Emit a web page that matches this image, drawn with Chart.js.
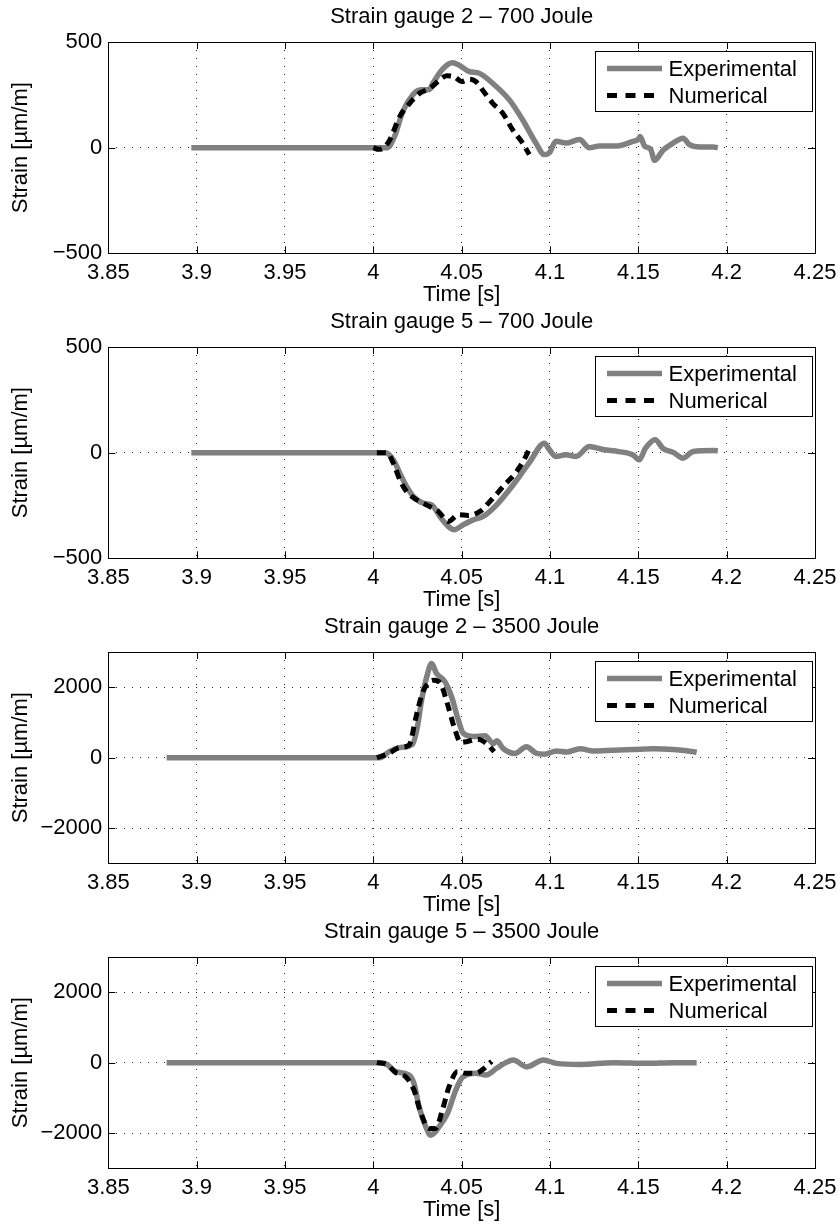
<!DOCTYPE html>
<html>
<head>
<meta charset="utf-8">
<title>Strain gauges - experimental vs numerical</title>
<script src="https://cdn.jsdelivr.net/npm/chart.js@4.4.1/dist/chart.umd.min.js"></script>
<style>
  body { margin: 0; background: #fff; }
  #wrap { position: relative; width: 838px; height: 1228px; overflow: hidden; }
  canvas { position: absolute; left: 0; }
</style>
</head>
<body>
<div id="wrap">
  <canvas id="sg2_700" width="838" height="330" style="top:0px"></canvas>
  <canvas id="sg5_700" width="838" height="330" style="top:305px"></canvas>
  <canvas id="sg2_3500" width="838" height="330" style="top:610px"></canvas>
  <canvas id="sg5_3500" width="838" height="313" style="top:915px"></canvas>
</div>
<script>
// Axis ticks
const xTicks = [3.85, 3.9, 3.95, 4, 4.05, 4.1, 4.15, 4.2, 4.25];
const yTicks700 = [-500, 0, 500];
const yTicks3500 = [-2000, 0, 2000];
const seriesNames = ['Experimental', 'Numerical'];

// Strain gauge 2 - 700 Joule
const sg2j700ExpT = [3.897, 3.95, 4.0, 4.008, 4.012, 4.0167, 4.0224, 4.0262, 4.0318, 4.0334, 4.0391, 4.0448, 4.0486, 4.0543, 4.0599, 4.0675, 4.077, 4.0845, 4.092, 4.0968, 4.0996, 4.1034, 4.109, 4.1167, 4.1223, 4.128, 4.138, 4.1469, 4.1498, 4.151, 4.1535, 4.157, 4.1592, 4.164, 4.1697, 4.1753, 4.179, 4.185, 4.1923, 4.195];
const sg2j700ExpV = [0, 0, 0, 0, 53, 171, 250, 273, 275, 300, 371, 402, 390, 360, 352, 305, 226, 132, 22, -33, -25, 30, 22, 38, 0, 8, 8, 30, 38, 53, 8, -8, -60, -12, 22, 45, 14, 3, 3, 0];
const sg2j700NumT = [4.0, 4.003, 4.006, 4.0094, 4.015, 4.0207, 4.0263, 4.032, 4.0377, 4.0415, 4.046, 4.05, 4.0543, 4.058, 4.0618, 4.0675, 4.0732, 4.0788, 4.0845, 4.0883];
const sg2j700NumV = [0, -8, 0, 38, 148, 211, 258, 280, 321, 340, 335, 313, 324, 313, 273, 211, 164, 85, 22, -33];

// Strain gauge 5 - 700 Joule
const sg5j700ExpT = [3.897, 3.95, 4.0, 4.007, 4.0113, 4.015, 4.0188, 4.0226, 4.0283, 4.033, 4.0377, 4.0424, 4.0457, 4.0509, 4.0566, 4.0622, 4.0698, 4.0792, 4.0887, 4.0968, 4.0996, 4.1034, 4.109, 4.1147, 4.1223, 4.13, 4.139, 4.1468, 4.1505, 4.154, 4.1595, 4.164, 4.17, 4.1753, 4.181, 4.193, 4.195];
const sg5j700ExpV = [0, 0, 0, 0, -34, -97, -160, -207, -239, -247, -302, -349, -365, -341, -318, -302, -247, -152, -42, 45, 15, -18, -10, -18, 29, 15, 5, -10, -34, 20, 61, 20, 0, -26, 5, 10, 8];
const sg5j700NumT = [4.002, 4.0075, 4.0113, 4.015, 4.0188, 4.0245, 4.03, 4.0368, 4.0424, 4.0481, 4.0537, 4.0604, 4.066, 4.0735, 4.0811, 4.0858, 4.0887];
const sg5j700NumV = [0, 0, -49, -128, -184, -223, -247, -278, -326, -294, -297, -278, -231, -160, -89, -26, 26];

// Strain gauge 2 - 3500 Joule
const sg2j3500ExpT = [3.883, 3.95, 4.0, 4.0037, 4.009, 4.0147, 4.0222, 4.0249, 4.0273, 4.0302, 4.033, 4.0358, 4.0405, 4.0443, 4.0481, 4.0509, 4.0566, 4.0632, 4.068, 4.0698, 4.0735, 4.0801, 4.0867, 4.0924, 4.0971, 4.1037, 4.1094, 4.117, 4.1245, 4.1358, 4.1471, 4.1584, 4.1698, 4.182, 4.183];
const sg2j3500ExpV = [0, 0, 0, 0, 170, 285, 380, 860, 1620, 2290, 2670, 2390, 2160, 1730, 1070, 690, 600, 620, 400, 480, 260, 120, 310, 120, 100, 190, 160, 255, 190, 210, 230, 255, 230, 160, 150];
const sg2j3500NumT = [4.002, 4.009, 4.0147, 4.0203, 4.0241, 4.0279, 4.0317, 4.0345, 4.0382, 4.042, 4.0458, 4.0495, 4.0533, 4.059, 4.0646, 4.0684];
const sg2j3500NumV = [0, 125, 285, 360, 1140, 1850, 2150, 2200, 2090, 1520, 860, 430, 460, 525, 380, 170];

// Strain gauge 5 - 3500 Joule
const sg5j3500ExpT = [3.883, 3.95, 4.0, 4.004, 4.008, 4.0127, 4.0202, 4.023, 4.0259, 4.0297, 4.0325, 4.0345, 4.0372, 4.042, 4.0467, 4.0505, 4.058, 4.0637, 4.0698, 4.075, 4.0792, 4.0868, 4.0962, 4.1037, 4.117, 4.136, 4.155, 4.17, 4.183];
const sg5j3500ExpV = [0, 0, 0, 0, -60, -257, -350, -587, -1250, -1820, -2060, -2000, -1820, -1440, -776, -416, -300, -350, -160, 0, 75, -120, 75, -20, -50, 0, -20, 0, 0];
const sg5j3500NumT = [4.002, 4.008, 4.0127, 4.0183, 4.023, 4.0267, 4.0316, 4.0353, 4.0391, 4.0429, 4.0476, 4.0524, 4.058, 4.0628, 4.0656, 4.067];
const sg5j3500NumV = [0, -60, -285, -400, -776, -1393, -1867, -1867, -1345, -683, -256, -300, -300, -160, -20, 30];

const FONT = "'Liberation Sans', Arial, Helvetica, sans-serif";
const font22 = { family: FONT, size: 22, weight: 'normal' };

function zip(ts, vs) {
    return ts.map((t, i) => ({ x: t, y: vs[i] }));
}

// MATLAB-like box with inward tick marks (drawn under the data)
const boxPlugin = {
    id: 'matlabBox',
    beforeDatasetsDraw(chart) {
        const { ctx, chartArea: a, scales } = chart;
        const len = 7;
        ctx.save();
        ctx.strokeStyle = '#000';
        ctx.lineWidth = 1;
        ctx.beginPath();
        scales.x.ticks.forEach(t => {
            const px = Math.round(scales.x.getPixelForValue(t.value)) + 0.5;
            ctx.moveTo(px, a.bottom); ctx.lineTo(px, a.bottom - len);
            ctx.moveTo(px, a.top); ctx.lineTo(px, a.top + len);
        });
        scales.y.ticks.forEach(t => {
            const py = Math.round(scales.y.getPixelForValue(t.value)) + 0.5;
            ctx.moveTo(a.left, py); ctx.lineTo(a.left + len, py);
            ctx.moveTo(a.right, py); ctx.lineTo(a.right - len, py);
        });
        ctx.stroke();
        ctx.strokeRect(Math.round(a.left) + 0.5, Math.round(a.top) + 0.5,
            Math.round(a.right - a.left), Math.round(a.bottom - a.top));
        ctx.restore();
    }
};

// Legend box in the upper right corner of the axes
const legendPlugin = {
    id: 'boxLegend',
    afterDatasetsDraw(chart) {
        const { ctx, chartArea: a } = chart;
        const w = 217, h = 60;
        const left = Math.round(a.right - 3.5 - w) + 0.5;
        const top = Math.round(a.top + 9) + 0.5;
        ctx.save();
        ctx.fillStyle = '#fff';
        ctx.fillRect(left, top, w, h);
        ctx.strokeStyle = '#000';
        ctx.lineWidth = 1;
        ctx.strokeRect(left, top, w, h);
        ctx.font = '22px ' + FONT;
        ctx.textBaseline = 'middle';
        ctx.fillStyle = '#000';
        chart.data.datasets.forEach((ds, i) => {
            const y = top + 17 + i * 27;
            ctx.beginPath();
            ctx.strokeStyle = ds.borderColor;
            ctx.lineWidth = ds.borderWidth;
            ctx.setLineDash(ds.borderDash ? [10, 8.5] : []);
            ctx.moveTo(left + 11.5, y);
            ctx.lineTo(left + 66.5, y);
            ctx.stroke();
            ctx.setLineDash([]);
            ctx.fillText(ds.label, left + 73, y + 1);
        });
        ctx.restore();
    }
};

function drawPanel(id, title, expT, expV, numT, numV, yMax, yTicks, timePad) {
    const canvas = document.getElementById(id);
    const axisHeight = canvas.height - 253.3;
    return new Chart(canvas, {
        type: 'line',
        data: {
            datasets: [{
                label: seriesNames[0],
                data: zip(expT, expV),
                borderColor: '#808080',
                borderWidth: 5.5,
                pointRadius: 0,
                cubicInterpolationMode: 'monotone',
                order: 1
            }, {
                label: seriesNames[1],
                data: zip(numT, numV),
                borderColor: '#000',
                borderWidth: 5,
                borderDash: [9, 6],
                pointRadius: 0,
                cubicInterpolationMode: 'monotone',
                order: 0
            }]
        },
        options: {
            responsive: false,
            animation: false,
            devicePixelRatio: 1,
            events: [],
            layout: { padding: { left: 0, right: 23, top: 0, bottom: 0 } },
            plugins: {
                legend: { display: false },
                tooltip: { enabled: false },
                title: {
                    display: true,
                    fullSize: false,
                    text: title,
                    color: '#000',
                    font: font22,
                    padding: { top: 4, bottom: 11.6 }
                }
            },
            scales: {
                x: {
                    type: 'linear',
                    min: 3.85,
                    max: 4.25,
                    afterBuildTicks: s => { s.ticks = xTicks.map(v => ({ value: v })); },
                    afterFit: s => {
                        s.height = axisHeight;
                        s.paddingLeft = 0;
                        s.paddingRight = 0;
                    },
                    ticks: {
                        color: '#000',
                        font: font22,
                        padding: 6,
                        autoSkip: false,
                        maxRotation: 0,
                        callback: v => String(Number(v.toFixed(2)))
                    },
                    grid: { color: '#222', lineWidth: 1, drawTicks: false },
                    border: { display: false, dash: [1, 7] },
                    title: {
                        display: true,
                        text: 'Time [s]',
                        color: '#000',
                        font: font22,
                        padding: { top: 0, bottom: timePad }
                    }
                },
                y: {
                    type: 'linear',
                    min: -yMax,
                    max: yMax,
                    afterBuildTicks: s => { s.ticks = yTicks.map(v => ({ value: v })); },
                    afterFit: s => { s.width = 108.3; },
                    ticks: {
                        color: '#000',
                        font: font22,
                        padding: 6,
                        callback: v => v < 0 ? '\u2212' + Math.abs(v) : String(v)
                    },
                    grid: { color: '#222', lineWidth: 1, drawTicks: false },
                    border: { display: false, dash: [1, 7] },
                    title: {
                        display: true,
                        text: 'Strain [\u00b5m/m]',
                        color: '#000',
                        font: font22,
                        padding: { top: 8, bottom: 0 }
                    }
                }
            }
        },
        plugins: [boxPlugin, legendPlugin]
    });
}

drawPanel('sg2_700', 'Strain gauge 2 \u2013 700 Joule', sg2j700ExpT, sg2j700ExpV, sg2j700NumT, sg2j700NumV, 500, yTicks700, 21.5);
drawPanel('sg5_700', 'Strain gauge 5 \u2013 700 Joule', sg5j700ExpT, sg5j700ExpV, sg5j700NumT, sg5j700NumV, 500, yTicks700, 21.5);
drawPanel('sg2_3500', 'Strain gauge 2 \u2013 3500 Joule', sg2j3500ExpT, sg2j3500ExpV, sg2j3500NumT, sg2j3500NumV, 3000, yTicks3500, 21.5);
drawPanel('sg5_3500', 'Strain gauge 5 \u2013 3500 Joule', sg5j3500ExpT, sg5j3500ExpV, sg5j3500NumT, sg5j3500NumV, 3000, yTicks3500, 4.8);
</script>
</body>
</html>
